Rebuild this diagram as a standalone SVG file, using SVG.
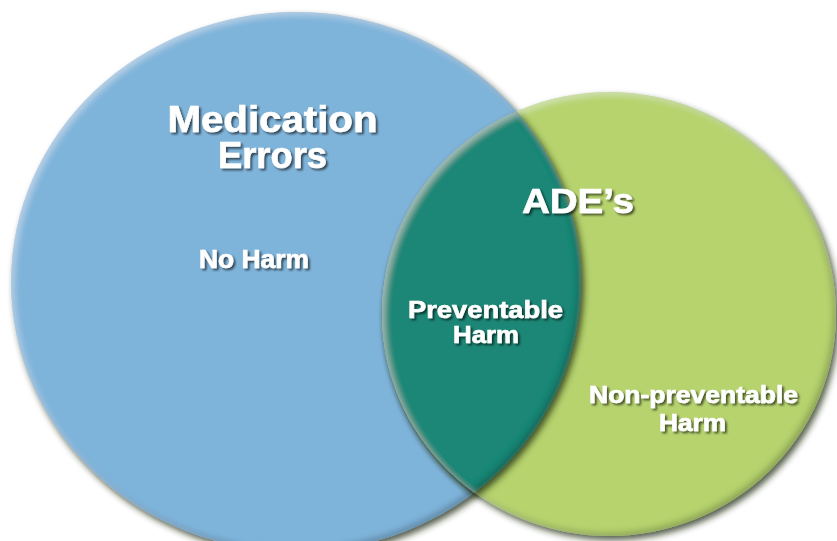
<svg xmlns="http://www.w3.org/2000/svg" width="837" height="541" viewBox="0 0 837 541">
  <defs>
    <filter id="bevel" x="-10%" y="-10%" width="120%" height="120%">
      <feGaussianBlur in="SourceAlpha" stdDeviation="3" result="blur"/>
      <feOffset in="blur" dx="3" dy="4" result="shOff"/>
      <feFlood flood-color="#1e2a10" flood-opacity="0.75"/>
      <feComposite in2="shOff" operator="in" result="drop"/>
      <feOffset in="blur" dx="-3" dy="-3" result="upLeft"/>
      <feComposite in="SourceAlpha" in2="upLeft" operator="out" result="darkMask"/>
      <feFlood flood-color="#000" flood-opacity="0.45"/>
      <feComposite in2="darkMask" operator="in" result="dark"/>
      <feOffset in="blur" dx="3" dy="3" result="downRight"/>
      <feComposite in="SourceAlpha" in2="downRight" operator="out" result="lightMask"/>
      <feFlood flood-color="#fff" flood-opacity="0.35"/>
      <feComposite in2="lightMask" operator="in" result="light"/>
      <feMerge>
        <feMergeNode in="drop"/>
        <feMergeNode in="SourceGraphic"/>
        <feMergeNode in="dark"/>
        <feMergeNode in="light"/>
      </feMerge>
    </filter>
    <filter id="txtShadow" x="-10%" y="-30%" width="120%" height="160%">
      <feDropShadow dx="2" dy="2" stdDeviation="1.2" flood-color="#000" flood-opacity="0.6"/>
    </filter>
    <clipPath id="blueClip">
      <ellipse cx="296" cy="282" rx="285" ry="270"/>
    </clipPath>
  </defs>
  <style>
    .lbl { font-family: "Liberation Sans", Arial, Helvetica, sans-serif; font-weight: bold; fill: #ffffff; stroke: #ffffff; stroke-width: 0.6; text-anchor: middle; filter: url(#txtShadow); }
  </style>

  <g id="medication-errors">
    <ellipse cx="296" cy="282" rx="285" ry="270" fill="#7fb4da" filter="url(#bevel)"/>
  </g>
  <g id="ades">
    <ellipse cx="609" cy="314" rx="227" ry="222" fill="#b6d36e" filter="url(#bevel)"/>
  </g>
  <g id="preventable-overlap" filter="url(#bevel)">
    <ellipse cx="609" cy="314" rx="227" ry="222" fill="#1b8776" clip-path="url(#blueClip)"/>
  </g>

  <g id="labels">
    <text class="lbl" x="272.5" y="132" font-size="37" textLength="210" lengthAdjust="spacingAndGlyphs">Medication</text>
    <text class="lbl" x="272.5" y="168" font-size="37" textLength="109" lengthAdjust="spacingAndGlyphs">Errors</text>
    <text class="lbl" x="254" y="268" font-size="25" textLength="110" lengthAdjust="spacingAndGlyphs">No Harm</text>
    <text class="lbl" x="578" y="213" font-size="35" textLength="112" lengthAdjust="spacingAndGlyphs">ADE’s</text>
    <text class="lbl" x="485.5" y="318" font-size="24" textLength="155" lengthAdjust="spacingAndGlyphs">Preventable</text>
    <text class="lbl" x="486" y="343" font-size="24" textLength="66" lengthAdjust="spacingAndGlyphs">Harm</text>
    <text class="lbl" x="693.5" y="403" font-size="24" textLength="209" lengthAdjust="spacingAndGlyphs">Non-preventable</text>
    <text class="lbl" x="692.5" y="431" font-size="24" textLength="67" lengthAdjust="spacingAndGlyphs">Harm</text>
  </g>
</svg>
